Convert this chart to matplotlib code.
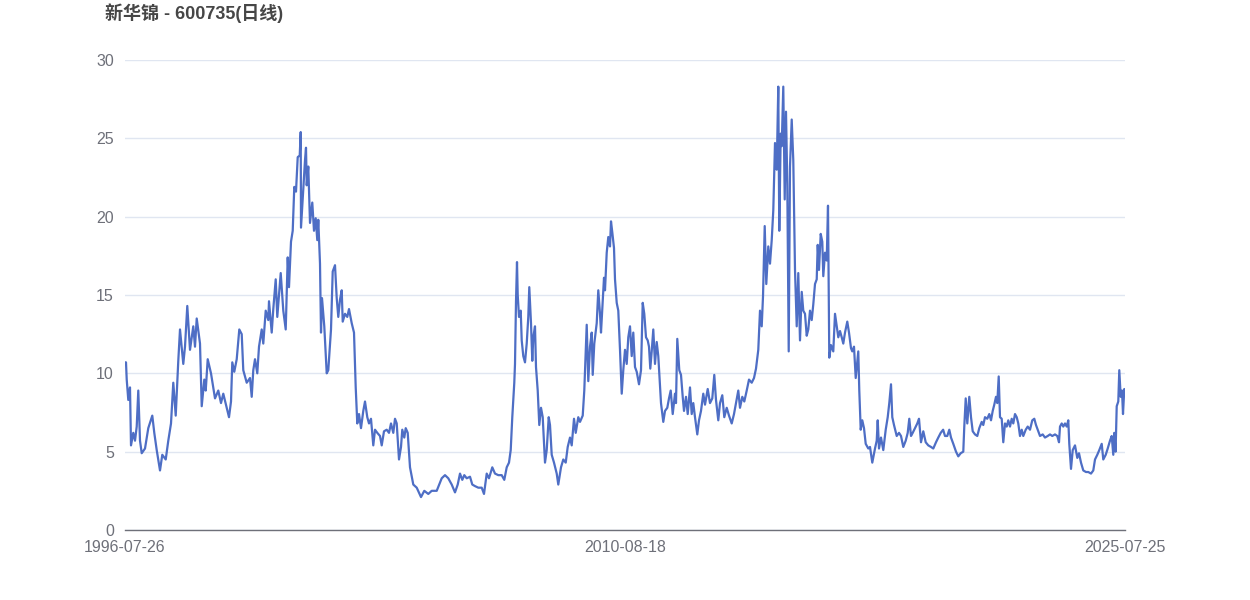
import matplotlib
matplotlib.use("Agg")
from matplotlib import pyplot as plt

plt.rcParams['font.family'] = ['Liberation Sans', 'Noto Sans CJK SC', 'DejaVu Sans']

title = '新华锦 - 600735(日线)'
n_days = 7000
tick_days = [0, 3500, 7000]
tick_labels = ['1996-07-26', '2010-08-18', '2025-07-25']

# trading-day number (from listing) and close price
day = [
    0, 7, 12, 23, 35, 42, 58, 70, 82, 93, 105, 117, 140, 163, 191, 205, 222, 245, 261, 285,
    303, 322, 338, 355, 373, 385, 408, 420, 436, 455, 478, 490, 502, 525, 537, 555, 565, 579, 602, 630,
    653, 672, 688, 712, 728, 742, 751, 765, 782, 800, 817, 828, 852, 875, 887, 898, 910, 926, 938, 957,
    968, 985, 1003, 1008, 1027, 1038, 1055, 1066, 1090, 1108, 1125, 1139, 1148, 1162, 1174, 1185,
    1197, 1209, 1223, 1230, 1232, 1248, 1260, 1267, 1272, 1283, 1295, 1311, 1323, 1335, 1346, 1353,
    1365, 1372, 1379, 1395, 1412, 1423, 1442, 1454, 1470, 1482, 1493, 1505, 1517, 1524, 1540, 1556,
    1568, 1587, 1603, 1615, 1626, 1638, 1652, 1668, 1680, 1696, 1708, 1722, 1738, 1750, 1766, 1785,
    1797, 1813, 1832, 1848, 1862, 1878, 1890, 1902, 1918, 1932, 1941, 1955, 1965, 1979, 1995, 2018,
    2042, 2072, 2095, 2123, 2147, 2182, 2217, 2240, 2263, 2287, 2310,
    2329, 2345, 2361, 2375, 2392, 2415, 2431, 2450, 2473, 2497, 2513, 2532, 2548, 2571, 2590, 2613,
    2637, 2655, 2672, 2688, 2700, 2711, 2725, 2730, 2737, 2744, 2749, 2758, 2770, 2777, 2788, 2800,
    2812, 2823, 2830, 2842, 2851, 2858, 2870, 2877, 2889, 2900, 2912, 2924, 2940, 2952, 2966, 2975,
    2987, 3003, 3022, 3033, 3052, 3068, 3085, 3099, 3115, 3127, 3143, 3155, 3173, 3185, 3204, 3215,
    3232, 3243, 3255, 3267, 3274, 3285, 3302, 3313, 3325, 3332, 3344, 3353, 3360, 3372, 3383, 3395,
    3402, 3411, 3423, 3430, 3442, 3453, 3465, 3477, 3488, 3500, 3512, 3523, 3535, 3547, 3558, 3570,
    3582, 3598, 3612, 3624, 3635, 3647, 3659, 3668, 3677, 3687, 3698, 3710, 3722, 3733, 3752, 3768,
    3780, 3796, 3808, 3820, 3834, 3850, 3857, 3866, 3880, 3892, 3904, 3913, 3927, 3939, 3955, 3967,
    3978, 3990, 4006, 4018, 4032, 4048, 4060, 4079, 4095, 4111, 4125, 4137, 4153, 4165, 4181, 4195,
    4212, 4228, 4247, 4263, 4277, 4293, 4305, 4321, 4335, 4352, 4368, 4387, 4403, 4417, 4433, 4445,
    4457, 4466, 4478, 4489, 4503, 4515, 4527, 4538, 4550, 4562, 4573, 4580, 4590, 4597, 4608, 4618,
    4627, 4636, 4646, 4655, 4667, 4678,
    4690, 4702, 4713, 4725, 4737, 4748, 4760, 4772, 4783, 4795, 4807, 4818, 4830, 4842, 4849, 4858,
    4870, 4881, 4888, 4900, 4912, 4921, 4930, 4942, 4958, 4970, 4982, 4993, 5005, 5017, 5028, 5040,
    5056, 5068, 5082, 5091, 5103, 5115, 5126, 5133, 5140, 5150, 5161, 5173, 5185, 5203, 5215, 5231,
    5250, 5262, 5269, 5278, 5292, 5308, 5325, 5339, 5350, 5362, 5371, 5383, 5402, 5418, 5432, 5448,
    5465, 5479, 5490, 5502, 5514, 5530, 5546, 5558, 5572, 5588, 5605, 5623, 5642, 5658, 5677, 5693,
    5710, 5727, 5740, 5756, 5770, 5782, 5798, 5817, 5833, 5850, 5868,
    5875, 5885, 5896, 5910, 5922, 5934, 5950, 5966, 5980, 5997, 6008, 6020, 6036, 6050, 6062, 6074,
    6085, 6097, 6106, 6116, 6125, 6137, 6148, 6160, 6172, 6183, 6195, 6207, 6218, 6230, 6242, 6253,
    6265, 6277, 6288, 6305, 6319, 6335, 6351, 6365, 6377, 6389, 6405, 6424, 6440, 6459, 6475, 6491,
    6510, 6526, 6538, 6545, 6557, 6568, 6580, 6592, 6603, 6610, 6622, 6634, 6650, 6666, 6678, 6692,
    6708, 6727, 6743, 6762, 6778, 6790, 6806, 6820, 6837, 6848, 6865, 6879, 6895, 6907, 6918, 6925,
    6934, 6942, 6953, 6960, 6970, 6979, 6986, 6995, 7000,
]
close = [
    10.7, 10.7, 9.6, 8.3, 9.1, 5.4, 6.2, 5.7, 6.6, 8.9, 5.7, 4.9, 5.2, 6.5, 7.3, 6.2, 5.1, 3.8, 4.8, 4.5,
    5.7, 6.8, 9.4, 7.3, 10.8, 12.8, 10.6, 11.7, 14.3, 11.5, 13.0, 11.7, 13.5, 11.9, 7.9, 9.6, 8.9, 10.9, 10.0, 8.4,
    8.9, 8.1, 8.7, 7.8, 7.2, 8.2, 10.7, 10.1, 10.9, 12.8, 12.5, 10.2, 9.4, 9.7, 8.5, 10.2, 10.9, 10.0, 11.7, 12.8,
    11.9, 14.0, 13.4, 14.6, 12.6, 14.1, 16.0, 13.6, 16.4, 14.0, 12.8, 17.4, 15.5, 18.4, 19.1, 21.9,
    21.6, 23.8, 23.9, 25.4, 19.3, 21.7, 23.6, 24.4, 22.0, 23.2, 19.6, 20.9, 19.1, 19.9, 18.5, 19.8,
    17.0, 12.6, 14.8, 13.0, 10.0, 10.2, 12.8, 16.5, 16.9, 14.8, 13.6, 14.7, 15.3, 13.3, 13.8, 13.6,
    14.1, 13.2, 12.6, 9.1, 6.8, 7.4, 6.5, 7.6, 8.2, 7.2, 6.8, 7.1, 5.4, 6.4, 6.2, 6.0,
    5.4, 6.3, 6.4, 6.2, 6.8, 6.2, 7.1, 6.8, 4.5, 5.3, 6.4, 5.9, 6.5, 6.2, 4.0, 2.9,
    2.7, 2.1, 2.5, 2.3, 2.5, 2.5, 3.3, 3.5, 3.3, 2.9, 2.4,
    2.9, 3.6, 3.2, 3.5, 3.3, 3.4, 2.9, 2.8, 2.7, 2.7, 2.3, 3.6, 3.3, 4.0, 3.6, 3.5,
    3.5, 3.2, 4.0, 4.3, 5.1, 7.2, 9.4, 10.6, 14.6, 17.1, 15.0, 13.6, 14.0, 12.1, 11.1, 10.7,
    11.9, 13.6, 15.5, 13.2, 10.8, 12.3, 13.0, 10.4, 8.9, 6.7, 7.8, 7.2, 4.3, 5.1, 7.2, 6.7,
    4.8, 4.3, 3.6, 2.9, 4.0, 4.5, 4.3, 5.3, 5.9, 5.4, 7.1, 6.2, 7.2, 6.9, 7.3, 8.9,
    13.1, 9.5, 11.7, 12.6, 9.9, 11.9, 13.2, 15.3, 13.8, 12.6, 14.6, 16.1, 15.3, 17.7, 18.7, 18.1,
    19.7, 19.0, 18.0, 16.0, 14.5, 14.0, 11.5, 8.7, 10.2, 11.5, 10.6, 12.3, 13.0, 11.1, 12.6, 10.4,
    10.1, 9.3, 10.2, 14.5, 13.8, 12.3, 12.1, 11.7, 10.3, 11.4, 12.8, 10.6, 12.0, 11.1, 8.1, 6.9,
    7.6, 7.8, 8.4, 8.9, 7.4, 8.7, 8.1, 12.2, 10.2, 9.9, 8.5, 7.6, 8.5, 7.4, 9.1, 7.4,
    8.1, 7.2, 6.1, 7.0, 7.6, 8.7, 8.0, 9.0, 8.1, 8.4, 9.9, 8.3, 7.0, 8.1, 8.6, 7.2,
    7.8, 7.3, 6.8, 7.4, 8.1, 8.9, 7.8, 8.5, 8.2, 8.9, 9.6, 9.4, 9.7, 10.3, 11.5, 14.0,
    13.0, 14.9, 19.4, 15.7, 18.1, 17.0, 18.5, 20.4, 24.7, 23.0, 28.3, 19.1, 25.3, 24.5, 28.3, 21.1,
    26.7, 22.1, 11.4, 23.2, 26.2, 23.6,
    16.6, 13.0, 16.4, 12.1, 15.2, 14.0, 13.8, 12.4, 12.8, 14.0, 13.4, 14.4, 15.7, 16.0, 18.2, 16.6,
    18.9, 18.4, 16.2, 17.7, 17.2, 20.7, 11.0, 11.8, 11.4, 13.8, 13.0, 12.3, 12.7, 12.3, 11.9, 12.6,
    13.3, 12.6, 11.6, 11.4, 11.7, 9.7, 10.7, 11.4, 8.9, 6.4, 7.0, 6.5, 5.5, 5.2, 5.3, 4.3,
    5.2, 5.7, 7.0, 5.2, 5.9, 5.1, 6.4, 7.2, 8.1, 9.3, 7.2, 6.7, 6.0, 6.2, 6.0, 5.3,
    5.7, 6.2, 7.1, 6.0, 6.2, 6.5, 6.8, 7.1, 5.6, 6.3, 5.6, 5.4, 5.3, 5.2, 5.6, 5.9,
    6.2, 6.4, 6.0, 6.0, 6.4, 5.9, 5.5, 5.0, 4.7, 4.9, 5.0,
    6.6, 8.4, 6.8, 8.5, 7.2, 6.3, 6.1, 6.0, 6.5, 6.9, 6.7, 7.2, 7.1, 7.4, 7.0, 7.6,
    8.0, 8.5, 8.1, 9.8, 7.2, 7.1, 5.6, 6.8, 6.6, 7.0, 6.6, 7.1, 6.8, 7.4, 7.2, 6.8,
    6.0, 6.4, 6.0, 6.4, 6.6, 6.4, 7.0, 7.1, 6.7, 6.4, 6.0, 6.1, 5.9, 6.0, 6.1, 6.0,
    6.1, 6.0, 5.6, 6.6, 6.8, 6.6, 6.8, 6.6, 7.0, 5.5, 3.9, 5.1, 5.4, 4.6, 4.9, 4.3,
    3.8, 3.7, 3.7, 3.6, 3.8, 4.5, 4.8, 5.1, 5.5, 4.5, 4.8, 5.2, 5.7, 6.0, 4.8, 6.2,
    5.0, 7.9, 8.2, 10.2, 8.5, 8.9, 7.4, 9.0, 8.9,
]

fig = plt.figure(figsize=(12.5, 6), dpi=100)
ax = fig.add_axes([0.1, 0.1167, 0.8, 0.7833])

ax.plot(day, close, color='#4e6ec5', linewidth=1.6, solid_joinstyle='round')

ax.set_xlim(0, n_days)
ax.set_ylim(0, 30)
ax.set_yticks([0, 5, 10, 15, 20, 25, 30])
ax.set_xticks(tick_days)
ax.set_xticklabels(tick_labels)

ax.grid(axis='y', color='#e0e6f1', linewidth=1)
ax.set_axisbelow(True)
for side in ['top', 'right', 'left']:
    ax.spines[side].set_visible(False)
ax.spines['bottom'].set_color('#6e7079')
ax.spines['bottom'].set_linewidth(1)

ax.tick_params(axis='both', length=0, labelsize=11.5, colors='#6e7079')
ax.tick_params(axis='y', pad=8)
ax.tick_params(axis='x', pad=7)

fig.text(0.084, 1 - 13 / 600, title, fontsize=13, fontweight='bold',
         color='#464646', va='center', ha='left')

fig.savefig('out.png', dpi=100, facecolor='white')
